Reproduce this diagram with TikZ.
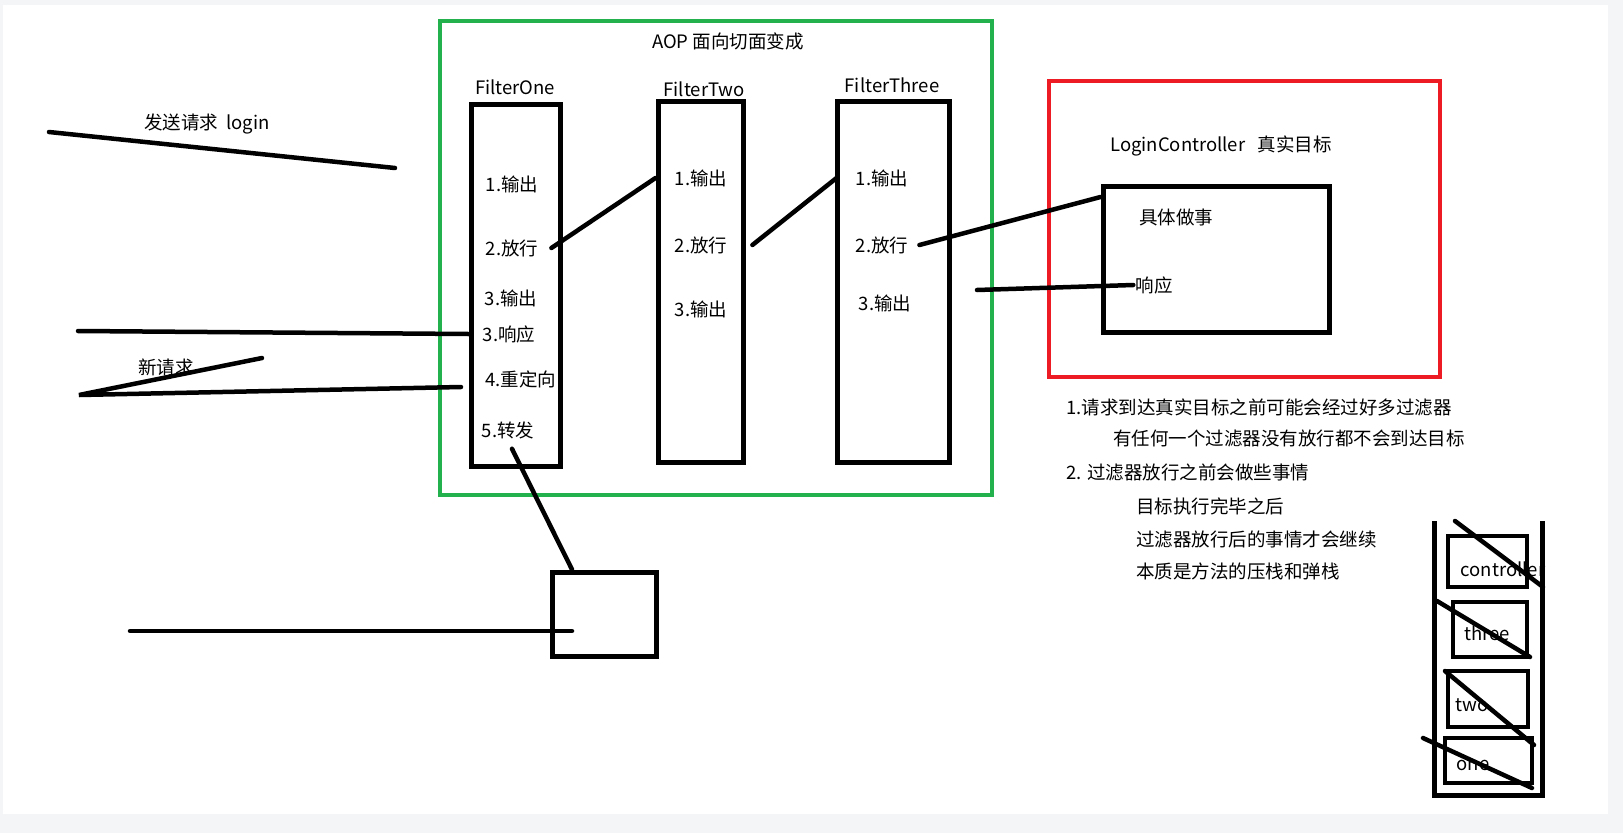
\documentclass[tikz,border=0pt]{standalone}
\usepackage{fontspec}
\setmainfont{Noto Sans CJK SC}
\definecolor{pgreen}{HTML}{22B14C}
\definecolor{pred}{HTML}{ED1C24}
\definecolor{pagebg}{HTML}{F4F5F7}
\begin{document}
\begin{tikzpicture}[x=1pt,y=-1pt,
  every node/.style={font=\fontsize{18.5}{22}\selectfont, inner sep=0pt},
  blackbox/.style={draw=black, line width=5pt},
  stackbox/.style={draw=black, line width=4.5pt},
  stroke/.style={line width=4.5pt, line cap=round},
  notetxt/.style={anchor=west}]
% canvas
\fill[pagebg] (0,0) rectangle (1623,833);
\fill[white] (3,5) rectangle (1608,814);
\useasboundingbox (0,0) rectangle (1623,833);

% frames
\node[draw=pgreen, line width=3.5pt, minimum width=552pt, minimum height=474pt] (aop) at (716,258) {};
\node[draw=pred, line width=4pt, minimum width=391pt, minimum height=296pt] (ctl) at (1244.5,229) {};
\node (aoptitle) at (728,41) {AOP 面向切面变成};
\node (ctltitle) at (1221,146) {LoginController\ \ \ 真实目标};

% filters
\node[blackbox, minimum width=89pt, minimum height=362pt] (f1) at (515.5,285) {};
\node[blackbox, minimum width=85pt, minimum height=361pt] (f2) at (700.5,281.5) {};
\node[blackbox, minimum width=112pt, minimum height=361pt] (f3) at (893,281.5) {};
\node (f1t) at (515,87) {FilterOne};
\node (f2t) at (704,89) {FilterTwo};
\node (f3t) at (892,85) {FilterThree};

\node (f1a) at (512,184) {1.输出};
\node (f1b) at (512,248) {2.放行};
\node (f1c) at (511,298) {3.输出};
\node (f1d) at (509,334) {3.响应};
\node (f1e) at (521,379) {4.重定向};
\node (f1f) at (508,430) {5.转发};

\node (f2a) at (701,178) {1.输出};
\node (f2b) at (701,245) {2.放行};
\node (f2c) at (701,309) {3.输出};

\node (f3a) at (882,178) {1.输出};
\node (f3b) at (882,245) {2.放行};
\node (f3c) at (885,303) {3.输出};

% controller inner box
\node[blackbox, minimum width=226pt, minimum height=146pt] (inner) at (1216,259) {};
\node (work) at (1176,217) {具体做事};
\node (resp) at (1154,285) {响应};

% forward target box
\node[blackbox, minimum width=104pt, minimum height=84pt] (fwd) at (604,614) {};

% left labels
\node (send) at (207,124) {发送请求\ \ login};
\node (newreq) at (166,367) {新请求};

% notes
\node[notetxt] (n1) at (1066,407) {1.请求到达真实目标之前可能会经过好多过滤器};
\node[notetxt] (n2) at (1113,438) {有任何一个过滤器没有放行都不会到达目标};
\node[notetxt] (n3) at (1066,472) {2. 过滤器放行之前会做些事情};
\node[notetxt] (n4) at (1136,506) {目标执行完毕之后};
\node[notetxt] (n5) at (1136,539) {过滤器放行后的事情才会继续};
\node[notetxt] (n6) at (1136,571) {本质是方法的压栈和弹栈};

% stack
\draw[line width=5pt] (1434,521) -- (1434,795) -- (1542,795) -- (1542,521);
\node[stackbox, minimum width=79pt, minimum height=51pt] (sc) at (1487.5,561.5) {};
\node[stackbox, minimum width=74pt, minimum height=55pt] (s3) at (1490,629.5) {};
\node[stackbox, minimum width=80pt, minimum height=56pt] (s2) at (1488,699) {};
\node[stackbox, minimum width=87pt, minimum height=45pt] (s1) at (1488.5,760.5) {};
\node (sct) at (1503,569) {controller};
\node (s3t) at (1487,633) {three};
\node (s2t) at (1472,705) {two};
\node (s1t) at (1473,765) {one};
\coordinate (xc1) at (1455,521); \coordinate (xc2) at (1543,587);
\coordinate (x31) at (1437,601); \coordinate (x32) at (1530,657);
\coordinate (x21) at (1445,671); \coordinate (x22) at (1534,745);
\coordinate (x11) at (1423,738); \coordinate (x12) at (1532,788);
\draw[stroke] (xc1) -- (xc2);
\draw[stroke] (x31) -- (x32);
\draw[stroke] (x21) -- (x22);
\draw[stroke] (x11) -- (x12);

% connectors
\coordinate (sendA) at (49,132);
\coordinate (sendB) at (395,168);
\draw[stroke] (sendA) -- (sendB);

\coordinate (respL) at (78,331);
\draw[stroke] (respL) -- (f1.west |- f1d);

\coordinate (redirL) at (79,395);
\coordinate (redirR) at (461,387);
\coordinate (redirT) at (262,358);
\draw[stroke] (redirR) -- (redirL) -- (redirT);

\draw[stroke] ([xshift=13pt]f1b.east) -- (f2.west |- f2a);
\draw[stroke] ([xshift=25pt]f2b.east) -- ([xshift=2pt]f3.west |- f3a);
\draw[stroke] ([xshift=11pt]f3b.east) -- (inner.west |- 0,197);
\coordinate (retL) at (977,290);
\draw[stroke] (retL) -- ([xshift=-2pt]resp.west);

\draw[stroke] ([xshift=4pt,yshift=-10pt]f1f.south) -- (fwd.north west -| 572,0);
\coordinate (fwdL) at (130,631);
\draw[stroke] (fwdL) -- (fwd.west |- 572,631) -- (572,631);
\end{tikzpicture}
\end{document}
